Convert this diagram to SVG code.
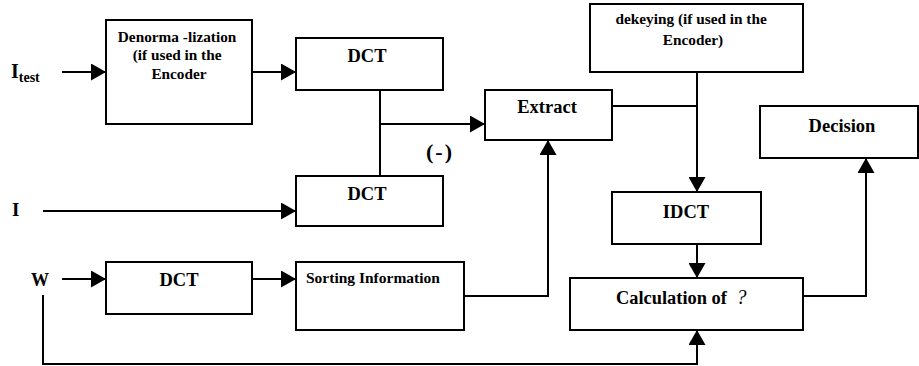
<svg xmlns="http://www.w3.org/2000/svg" width="919" height="366" viewBox="0 0 919 366">
  <defs>
    <marker id="arrow" markerUnits="userSpaceOnUse" markerWidth="15" markerHeight="17" refX="15" refY="8.5" orient="auto">
      <path d="M0,0 L15,8.5 L0,17 z" fill="#000"/>
    </marker>
  </defs>
  <rect width="919" height="366" fill="#fff"/>

  <!-- connectors -->
  <g id="connectors" fill="none" stroke="#000" stroke-width="2">
    <path d="M62,72 H106" marker-end="url(#arrow)"/>
    <path d="M252,72 H296" marker-end="url(#arrow)"/>
    <path d="M380,90 V176"/>
    <path d="M380,124 H485" marker-end="url(#arrow)"/>
    <path d="M43,211 H296" marker-end="url(#arrow)"/>
    <path d="M62,279 H106" marker-end="url(#arrow)"/>
    <path d="M252,279 H296" marker-end="url(#arrow)"/>
    <path d="M464,296 H548 V140" marker-end="url(#arrow)"/>
    <path d="M612,106 H697"/>
    <path d="M697,72 V192" marker-end="url(#arrow)"/>
    <path d="M697,244 V278" marker-end="url(#arrow)"/>
    <path d="M803,296 H866 V158" marker-end="url(#arrow)"/>
    <path d="M43,295 V364 H697 V330" marker-end="url(#arrow)"/>
  </g>

  <!-- inputs -->
  <g id="input-itest">
    <text x="11" y="78" font-family="Liberation Serif" font-weight="bold" font-size="20">I<tspan font-size="14" dy="4">test</tspan></text>
  </g>
  <g id="input-i">
    <text x="12" y="216" font-family="Liberation Serif" font-weight="bold" font-size="19">I</text>
  </g>
  <g id="input-w">
    <text x="31" y="286" font-family="Liberation Serif" font-weight="bold" font-size="18">W</text>
  </g>

  <!-- blocks -->
  <g id="denormalization">
    <rect x="106" y="20" width="146" height="104" fill="#fff" stroke="#000" stroke-width="2"/>
    <text font-family="Liberation Serif" font-weight="bold" font-size="15.3" text-anchor="middle">
      <tspan x="179" y="42">Denorma -lization</tspan>
      <tspan x="179" y="60">(if used in the</tspan>
      <tspan x="179" y="79">Encoder</tspan>
    </text>
  </g>
  <g id="dct-test">
    <rect x="296" y="38" width="147" height="52" fill="#fff" stroke="#000" stroke-width="2"/>
    <text x="367" y="62" font-family="Liberation Serif" font-weight="bold" font-size="18.5" text-anchor="middle">DCT</text>
  </g>
  <g id="dct-orig">
    <rect x="296" y="176" width="147" height="50" fill="#fff" stroke="#000" stroke-width="2"/>
    <text x="367" y="200" font-family="Liberation Serif" font-weight="bold" font-size="18.5" text-anchor="middle">DCT</text>
  </g>
  <g id="minus">
    <text x="440" y="159" font-family="Liberation Serif" font-weight="bold" font-size="22" letter-spacing="2" text-anchor="middle">(-)</text>
  </g>
  <g id="dct-w">
    <rect x="106" y="262" width="146" height="52" fill="#fff" stroke="#000" stroke-width="2"/>
    <text x="179" y="286" font-family="Liberation Serif" font-weight="bold" font-size="18.5" text-anchor="middle">DCT</text>
  </g>
  <g id="sorting">
    <rect x="296" y="262" width="168" height="68" fill="#fff" stroke="#000" stroke-width="2"/>
    <text x="306" y="283" font-family="Liberation Serif" font-weight="bold" font-size="15.5">Sorting Information</text>
  </g>
  <g id="extract">
    <rect x="485" y="90" width="127" height="50" fill="#fff" stroke="#000" stroke-width="2"/>
    <text x="547" y="113" font-family="Liberation Serif" font-weight="bold" font-size="18.5" text-anchor="middle">Extract</text>
  </g>
  <g id="dekeying">
    <rect x="590" y="4" width="213" height="68" fill="#fff" stroke="#000" stroke-width="2"/>
    <text font-family="Liberation Serif" font-weight="bold" font-size="15.3" text-anchor="middle">
      <tspan x="693" y="24">dekeying (if used in the</tspan>
      <tspan x="693" y="45">Encoder)</tspan>
    </text>
  </g>
  <g id="idct">
    <rect x="612" y="192" width="149" height="52" fill="#fff" stroke="#000" stroke-width="2"/>
    <text x="686" y="218" font-family="Liberation Serif" font-weight="bold" font-size="18.5" text-anchor="middle">IDCT</text>
  </g>
  <g id="calculation">
    <rect x="570" y="278" width="233" height="52" fill="#fff" stroke="#000" stroke-width="2"/>
    <text x="616" y="304" font-family="Liberation Serif" font-weight="bold" font-size="18.4">Calculation of <tspan font-weight="normal" font-style="italic" font-size="20" dx="5">?</tspan></text>
  </g>
  <g id="decision">
    <rect x="760" y="106" width="158" height="52" fill="#fff" stroke="#000" stroke-width="2"/>
    <text x="842" y="132" font-family="Liberation Serif" font-weight="bold" font-size="18.5" text-anchor="middle">Decision</text>
  </g>
</svg>
